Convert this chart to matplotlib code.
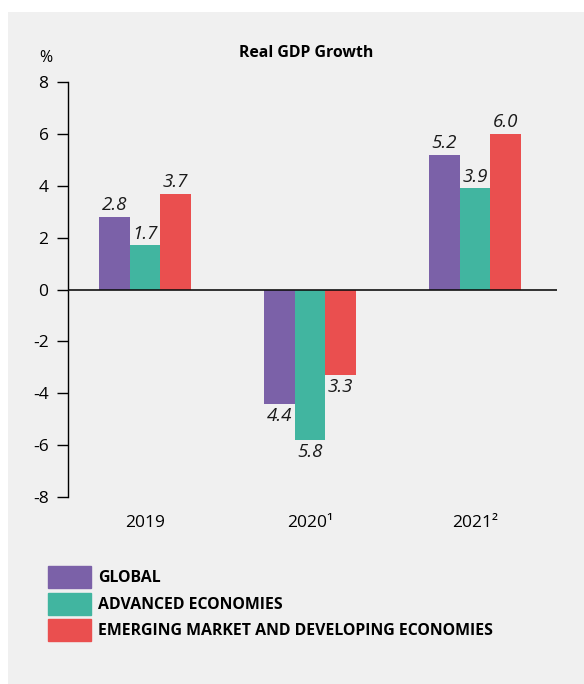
import matplotlib.pyplot as plt
import matplotlib.patches as mpatches
import numpy as np

plt.rcParams['font.family'] = ['Open Sans', 'DejaVu Sans']

years = ['2019', '2020\u00b9', '2021\u00b2']
global_growth = [2.8, -4.4, 5.2]
advanced = [1.7, -5.8, 3.9]
emerging = [3.7, -3.3, 6.0]
series_names = ['GLOBAL', 'ADVANCED ECONOMIES', 'EMERGING MARKET AND DEVELOPING ECONOMIES']
colors = ['#7B61A8', '#41B5A0', '#EA4F4F']

fig = plt.figure(figsize=(5.84, 6.84), dpi=100)
fig.patch.set_facecolor('white')
# grey panel behind everything
fig.patches.append(mpatches.Rectangle((8 / 584, 0), 1, 1 - 12 / 684,
                                      transform=fig.transFigure,
                                      facecolor='#F0F0F0', edgecolor='none', zorder=-5))

ax = fig.add_axes([68 / 584, 1 - 497 / 684, 489 / 584, 415 / 684])
ax.set_facecolor('none')
ax.set_zorder(2)

x = np.arange(len(years))
w = 0.185
for i, (vals, c) in enumerate(zip([global_growth, advanced, emerging], colors)):
    pos = x + (i - 1) * w
    ax.bar(pos, vals, width=w, color=c, zorder=2)
    for p, v in zip(pos, vals):
        if v >= 0:
            ax.text(p, v + 0.1, f'{abs(v):.1f}', ha='center', va='bottom',
                    style='italic', fontsize=13.5, color='#1a1a1a')
        else:
            ax.text(p, v - 0.12, f'{abs(v):.1f}', ha='center', va='top',
                    style='italic', fontsize=13.5, color='#1a1a1a')

ax.axhline(0, color='#111111', lw=1.2, zorder=3)
ax.set_xlim(-0.467, 2.497)
ax.set_ylim(-8, 8)
ax.set_yticks(range(-8, 9, 2))
ax.set_yticklabels([str(t) for t in range(-8, 9, 2)], fontsize=12.5)
ax.set_xticks(x)
ax.set_xticklabels(years, fontsize=12.5)
ax.tick_params(axis='x', length=0, pad=13)
ax.tick_params(axis='y', length=8, width=1, direction='out', pad=6)
for s in ['top', 'right', 'bottom']:
    ax.spines[s].set_visible(False)
ax.spines['left'].set_linewidth(1)

fig.text(306 / 584, 1 - 53 / 684, 'Real GDP Growth', ha='center', va='center',
         fontsize=11.4, fontweight='bold')
fig.text(46 / 584, 1 - 58 / 684, '%', ha='center', va='center', fontsize=11.5)

handles = [mpatches.Patch(color=c, label=n) for c, n in zip(colors, series_names)]
leg = fig.legend(handles=handles, loc='upper left', bbox_to_anchor=(48 / 584, 1 - 566 / 684),
                 frameon=False, handlelength=2.7, handleheight=1.75, handletextpad=0.45,
                 labelspacing=0.3, borderpad=0, borderaxespad=0,
                 prop={'weight': 'bold', 'size': 11.4})

fig.savefig('out.png', dpi=100)
